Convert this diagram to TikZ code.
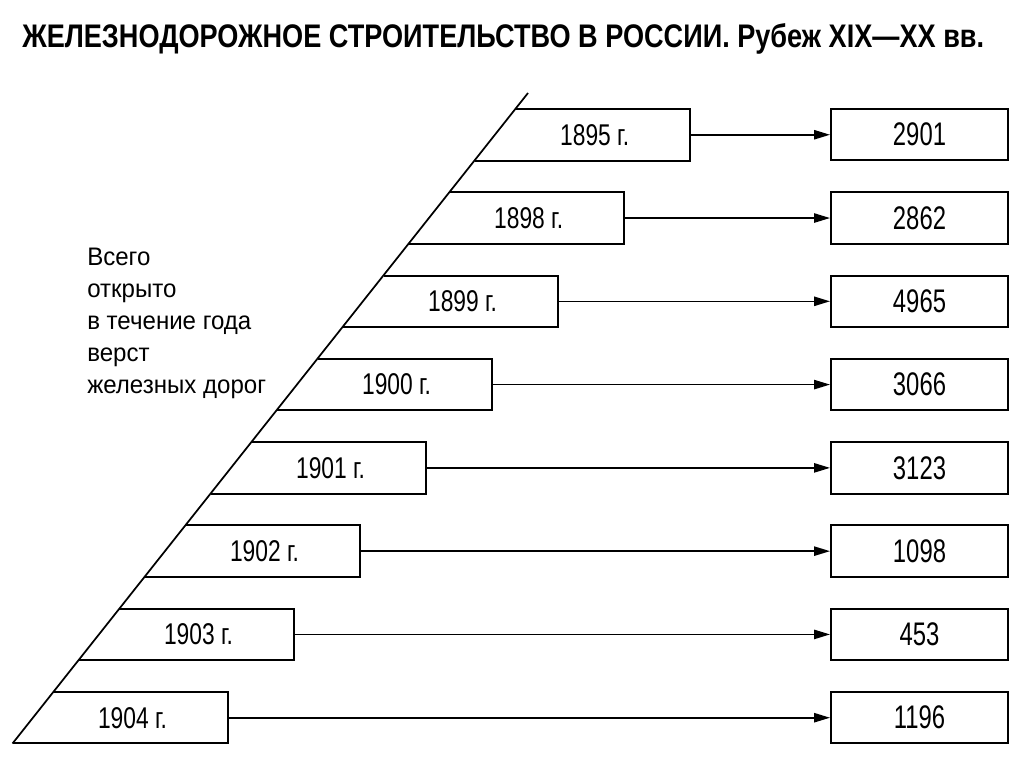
\documentclass[tikz,border=0pt]{standalone}
\usepackage{fontspec}
\setmainfont{Liberation Sans}
\newfontfamily\narfont[FakeStretch=0.76]{Liberation Sans}
\newfontfamily\numfont[FakeStretch=0.73]{Liberation Sans}
\newfontfamily\titfont[FakeStretch=0.83]{Liberation Sans}
\newfontfamily\lblfont[FakeStretch=0.95]{Liberation Sans}
\usetikzlibrary{arrows.meta}
\tikzset{
  yearbox/.style={draw=black, line width=1.5pt, line join=miter},
  yeartext/.style={inner sep=0pt, font={\narfont\fontsize{22.5}{24}\selectfont}},
  numbox/.style={draw=black, line width=1.5pt, minimum width=132.75pt, minimum height=38.6pt, inner sep=0pt,
                 font={\numfont\fontsize{24.5}{26}\selectfont}},
  arr/.style={line width=1.2pt, -{Triangle[length=12pt,width=7pt]}},
  lbl/.style={anchor=base west, inner sep=0pt, font={\lblfont\fontsize{19}{24}\selectfont}},
  diag/.style={line width=1.3pt}
}
\begin{document}
\begin{tikzpicture}[x=0.75pt,y=-0.75pt]
\useasboundingbox (0,0) rectangle (1024,767);
\fill[white] (0,0) rectangle (1024,767);
% title
\node[anchor=base west, inner sep=0pt, font={\titfont\bfseries\fontsize{24.5}{26}\selectfont}] (title) at (22,48)
  {ЖЕЛЕЗНОДОРОЖНОЕ СТРОИТЕЛЬСТВО В РОССИИ. Рубеж XIX—XX вв.};
% diagonal
\coordinate (dA) at (12.5,743.5);
\coordinate (dB) at (528,93);
\draw[diag] (dA) -- (dB);
% left label
\node[lbl] (l1) at (87,265) {Всего};
\node[lbl] (l2) at (87,297) {открыто};
\node[lbl] (l3) at (87,329) {в течение года};
\node[lbl] (l4) at (87,361) {верст};
\node[lbl] (l5) at (87,393) {железных дорог};
% rows
\foreach \yr/\num [count=\i from 0] in {1895/2901,1898/2862,1899/4965,1900/3066,1901/3123,1902/1098,1903/453,1904/1196}{
  \pgfmathsetmacro\tp{109+83.28*\i}
  \pgfmathsetmacro\bt{\tp+51.5}
  \pgfmathsetmacro\my{\tp+25.75}
  \pgfmathsetmacro\rx{690-66*\i}
  \pgfmathsetmacro\lt{12.5+0.7931*(743.5-\tp)}
  \pgfmathsetmacro\lb{12.5+0.7931*(743.5-\bt)}
  \pgfmathsetmacro\lm{12.5+0.7931*(743.5-\my)}
  \pgfmathsetmacro\cx{(\lm+\rx)/2+2}
  \draw[yearbox] (\lt,\tp) -- (\rx,\tp) -- (\rx,\bt) -- (\lb,\bt);
  \node[yeartext] (y\i) at (\cx,\my) {\yr~г.};
  \coordinate (r\i) at (\rx,\my);
  \node[numbox] (n\i) at (919.5,\my) {\num};
  \draw[arr] (r\i) -- (n\i.west);
}
\end{tikzpicture}
\end{document}
